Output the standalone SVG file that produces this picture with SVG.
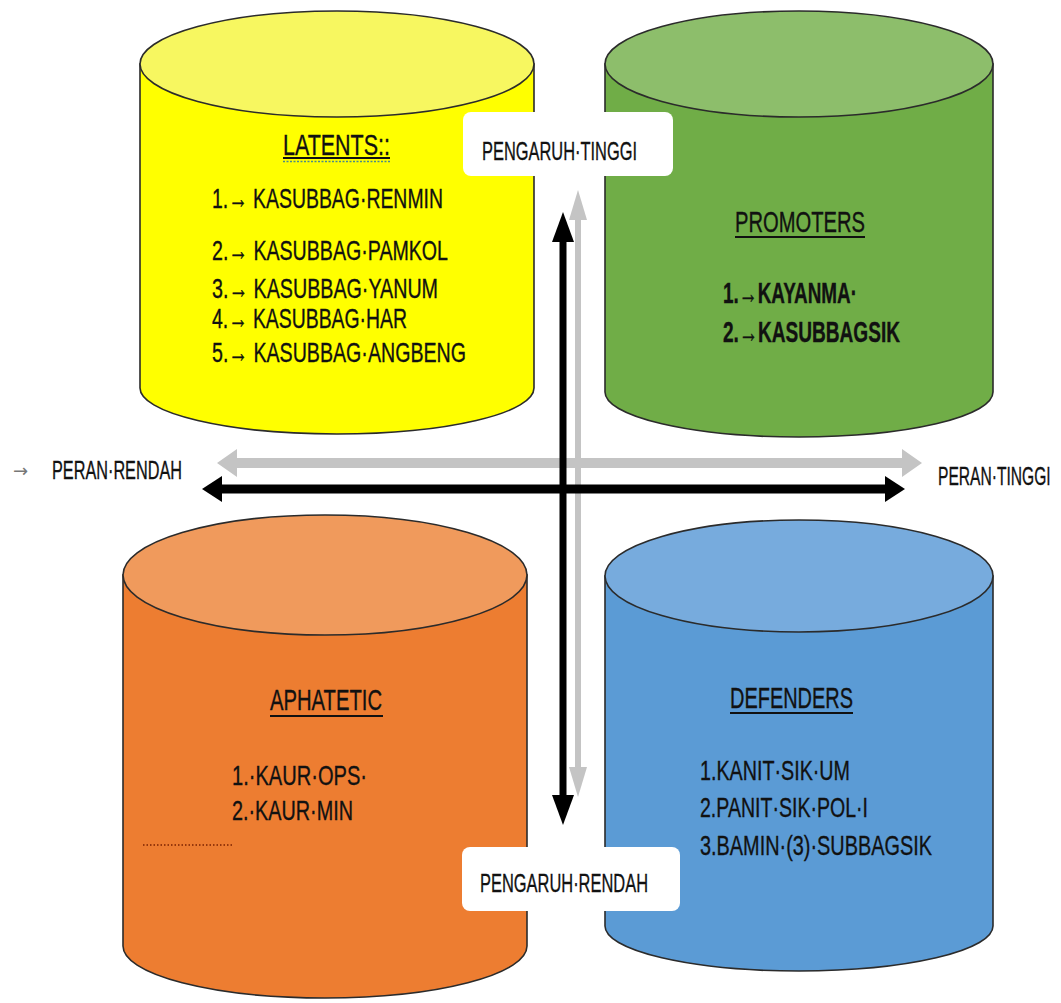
<svg xmlns="http://www.w3.org/2000/svg" width="1061" height="1003" viewBox="0 0 1061 1003">
<style>
.cyl{stroke:#2b2b2b;stroke-width:1.6}
.t{font-family:"Liberation Sans",Arial,sans-serif;fill:#111;stroke:#111;stroke-width:0.35}
.li{font-size:28px}
.ti{font-size:29px}
.lb{font-size:26px}
.b{font-weight:bold}
.ul{stroke:#111;stroke-width:1.8}
.box{fill:#fff}
.ar{font-family:"DejaVu Sans",sans-serif}
</style>
<defs>
<marker id="hGray" markerUnits="userSpaceOnUse" viewBox="0 0 20 28" markerWidth="20" markerHeight="28" refX="0" refY="14" orient="auto-start-reverse"><path d="M0,0 L20,14 L0,28 z" fill="#c4c4c4"/></marker>
<marker id="hBlack" markerUnits="userSpaceOnUse" viewBox="0 0 20 26" markerWidth="20" markerHeight="26" refX="0" refY="13" orient="auto-start-reverse"><path d="M0,0 L20,13 L0,26 z" fill="#000"/></marker>
<marker id="vGray" markerUnits="userSpaceOnUse" viewBox="0 0 30 18" markerWidth="30" markerHeight="18" refX="0" refY="9" orient="auto-start-reverse"><path d="M0,0 L30,9 L0,18 z" fill="#c4c4c4"/></marker>
<marker id="vBlack" markerUnits="userSpaceOnUse" viewBox="0 0 30 22" markerWidth="30" markerHeight="22" refX="0" refY="11" orient="auto-start-reverse"><path d="M0,0 L30,11 L0,22 z" fill="#000"/></marker>
</defs>
<rect width="1061" height="1003" fill="#fff"/>

<g id="latents">
<path class="cyl" fill="#FFFF00" d="M140,64 L140,388 A197,46 0 0 0 534,388 L534,64 Z"/>
<ellipse class="cyl" fill="#F7F760" cx="337" cy="64" rx="197" ry="53"/>
<text class="t ti" x="283" y="155" textLength="107" lengthAdjust="spacingAndGlyphs">LATENTS::</text>
<line class="ul" x1="283" y1="158" x2="390" y2="158"/>
<line x1="283" y1="161.5" x2="390" y2="161.5" stroke="#4a8a8a" stroke-width="1.5" stroke-dasharray="2 1.5"/>
<text class="t li" x="212" y="208" textLength="231" lengthAdjust="spacingAndGlyphs">1.→ KASUBBAG·RENMIN</text>
<text class="t li" x="212" y="260" textLength="236" lengthAdjust="spacingAndGlyphs">2.→ KASUBBAG·PAMKOL</text>
<text class="t li" x="212" y="298" textLength="226" lengthAdjust="spacingAndGlyphs">3.→ KASUBBAG·YANUM</text>
<text class="t li" x="212" y="328" textLength="195" lengthAdjust="spacingAndGlyphs">4.→ KASUBBAG·HAR</text>
<text class="t li" x="212" y="362" textLength="254" lengthAdjust="spacingAndGlyphs">5.→ KASUBBAG·ANGBENG</text>
</g>

<g id="promoters">
<path class="cyl" fill="#70AD47" d="M605,64 L605,392 A194,45 0 0 0 993,392 L993,64 Z"/>
<ellipse class="cyl" fill="#8DBE6B" cx="799" cy="64" rx="194" ry="53"/>
<text class="t ti" x="735" y="232" textLength="130" lengthAdjust="spacingAndGlyphs">PROMOTERS</text>
<line class="ul" x1="735" y1="237" x2="865" y2="237"/>
<text class="t ti b" x="723" y="303" textLength="134" lengthAdjust="spacingAndGlyphs">1.→KAYANMA·</text>
<text class="t ti b" x="723" y="342" textLength="177" lengthAdjust="spacingAndGlyphs">2.→KASUBBAGSIK</text>
</g>

<g id="aphatetic">
<path class="cyl" fill="#ED7D31" d="M123,575 L123,946 A202,52 0 0 0 527,946 L527,575 Z"/>
<ellipse class="cyl" fill="#F09A5C" cx="325" cy="575" rx="202" ry="60"/>
<text class="t ti" x="270" y="710" textLength="112" lengthAdjust="spacingAndGlyphs">APHATETIC</text>
<line class="ul" x1="270" y1="716" x2="383" y2="716"/>
<text class="t li" x="232" y="785" textLength="135" lengthAdjust="spacingAndGlyphs">1.·KAUR·OPS·</text>
<text class="t li" x="232" y="820" textLength="121" lengthAdjust="spacingAndGlyphs">2.·KAUR·MIN</text>
<line x1="143" y1="845" x2="233" y2="845" stroke="#7a2000" stroke-width="1.6" stroke-dasharray="1.5 2"/>
</g>

<g id="defenders">
<path class="cyl" fill="#5B9BD5" d="M605,576 L605,926 A194,45 0 0 0 993,926 L993,576 Z"/>
<ellipse class="cyl" fill="#77ABDD" cx="799" cy="576" rx="194" ry="56"/>
<text class="t ti" x="730" y="708" textLength="123" lengthAdjust="spacingAndGlyphs" fill="#14213a" stroke="#14213a">DEFENDERS</text>
<line class="ul" x1="730" y1="713" x2="853" y2="713" stroke="#14213a"/>
<text class="t li" x="700" y="780" textLength="150" lengthAdjust="spacingAndGlyphs" fill="#14213a" stroke="#14213a">1.KANIT·SIK·UM</text>
<text class="t li" x="700" y="817" textLength="168" lengthAdjust="spacingAndGlyphs" fill="#14213a" stroke="#14213a">2.PANIT·SIK·POL·I</text>
<text class="t li" x="700" y="855" textLength="232" lengthAdjust="spacingAndGlyphs" fill="#14213a" stroke="#14213a">3.BAMIN·(3)·SUBBAGSIK</text>
</g>

<g id="connectors">
<line x1="237" y1="463" x2="902" y2="463" stroke="#c4c4c4" stroke-width="10" marker-start="url(#hGray)" marker-end="url(#hGray)"/>
<line x1="578" y1="220" x2="578" y2="767" stroke="#c4c4c4" stroke-width="6" marker-start="url(#vGray)" marker-end="url(#vGray)"/>
<line x1="222" y1="489" x2="885" y2="489" stroke="#000" stroke-width="9" marker-start="url(#hBlack)" marker-end="url(#hBlack)"/>
<line x1="563" y1="242" x2="563" y2="795" stroke="#000" stroke-width="7" marker-start="url(#vBlack)" marker-end="url(#vBlack)"/>
</g>

<g id="label-pengaruh-tinggi">
<rect class="box" x="463" y="112" width="210" height="64" rx="8"/>
<text class="t lb" x="482" y="160" textLength="155" lengthAdjust="spacingAndGlyphs">PENGARUH·TINGGI</text>
</g>
<g id="label-pengaruh-rendah">
<rect class="box" x="462" y="847" width="218" height="64" rx="8"/>
<text class="t lb" x="480" y="892" textLength="168" lengthAdjust="spacingAndGlyphs">PENGARUH·RENDAH</text>
</g>
<g id="label-peran-rendah">
<text class="ar" x="13" y="477" font-size="18" fill="#777">→</text>
<text class="t lb" x="52" y="479" textLength="130" lengthAdjust="spacingAndGlyphs">PERAN·RENDAH</text>
</g>
<g id="label-peran-tinggi">
<text class="t lb" transform="translate(938,485) scale(0.6,1)" x="0" y="0">PERAN·TINGGI</text>
</g>
</svg>
